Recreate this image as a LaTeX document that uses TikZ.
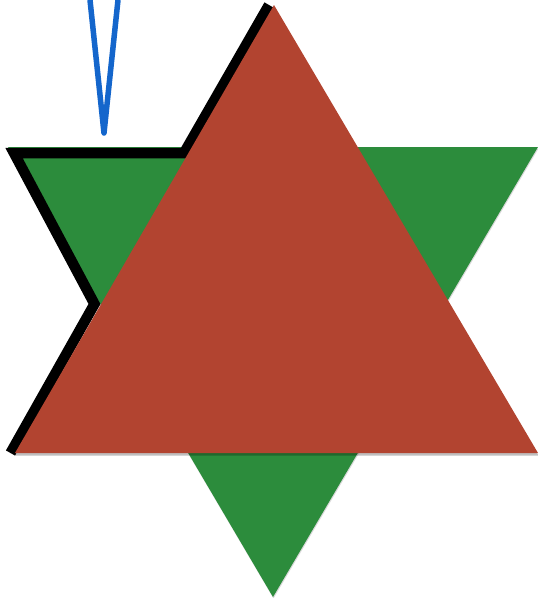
\documentclass[tikz,border=0pt]{standalone}
\usetikzlibrary{shadows}
\definecolor{stargreen}{RGB}{44,140,60}
\definecolor{starred}{RGB}{178,68,48}
\definecolor{vblue}{RGB}{20,102,204}
\begin{document}
\begin{tikzpicture}[x=1pt,y=-1pt,
  greentri/.style={fill=stargreen, drop shadow={shadow xshift=0.5pt,shadow yshift=-1.5pt,opacity=0.15,fill=black}},
  redtri/.style={fill=starred, drop shadow={shadow xshift=0.5pt,shadow yshift=-2.5pt,opacity=0.25,fill=black}},
  outline/.style={draw=black,line width=10.5pt,line join=miter},
  vline/.style={draw=vblue,line width=5.5pt,line join=round}]
\useasboundingbox (0,0) rectangle (538,598);
% green downward triangle
\coordinate (g1) at (8,147);
\coordinate (g2) at (538,147);
\coordinate (g3) at (273,597);
\fill[greentri] (g1) -- (g2) -- (g3) -- cycle;
% black outline
\coordinate (b1) at (10.5,453);
\coordinate (b2) at (94.5,304);
\coordinate (b3) at (14,153);
\coordinate (b4) at (184,153);
\coordinate (b5) at (269,5);
\draw[outline] (b1) -- (b2) -- (b3) -- (b4) -- (b5);
% red upward triangle
\coordinate (r1) at (274,5);
\coordinate (r2) at (15,453);
\coordinate (r3) at (538,453);
\fill[redtri] (r1) -- (r2) -- (r3) -- cycle;
% blue V
\coordinate (v1) at (90,0);
\coordinate (v2) at (104,133);
\coordinate (v3) at (118,0);
\draw[vline] (v1) -- (v2) -- (v3);
\end{tikzpicture}
\end{document}
